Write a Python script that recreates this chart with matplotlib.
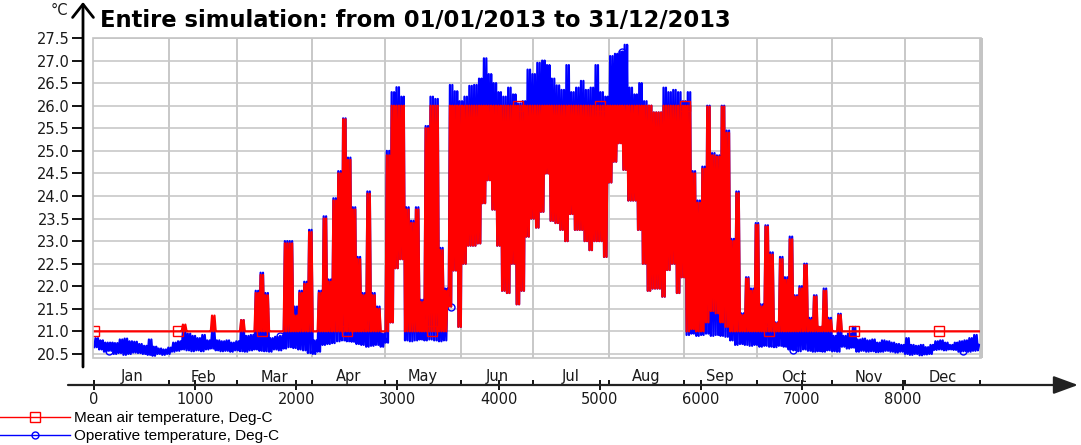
import matplotlib
matplotlib.use("Agg")
import matplotlib.pyplot as plt
from matplotlib.lines import Line2D
from matplotlib.patches import FancyArrowPatch, Rectangle
import numpy as np

plt.rcParams["path.simplify"] = False

# ---------------- data (2-day periods, 48 h each) ----------------
period_hours = 48
total_hours = 8760

# Mean air temperature: per-period maximum and minimum
air_hi = [
    21.0, 21.0, 21.0, 21.0, 21.0, 21.0, 21.0, 21.0, 21.0, 21.0,
    21.0, 21.0, 21.0, 21.0, 21.0, 21.0, 21.0, 21.0, 21.15, 21.0,
    21.0, 21.0, 21.0, 21.0, 21.35, 21.0, 21.0, 21.0, 21.0, 21.0,
    21.25, 21.0, 21.0, 21.85, 22.25, 21.8, 21.0, 21.0, 21.0, 22.95,
    22.95, 21.35, 21.85, 22.05, 23.2, 21.0, 21.85, 23.5, 22.1, 23.9,
    24.5, 25.7, 24.8, 23.7, 22.6, 21.8, 24.05, 21.8, 21.5, 21.0,
    24.9, 26.0, 26.0, 26.0, 23.7, 23.4, 23.7, 21.65, 25.5, 26.0,
    26.0, 22.8, 21.9, 26.0, 26.0, 26.0, 26.0, 26.0, 26.0, 26.0,
    26.0, 26.0, 26.0, 26.0, 26.0, 26.0, 26.0, 26.0, 26.0, 26.0,
    26.0, 26.0, 26.0, 26.0, 26.0, 26.0, 26.0, 26.0, 26.0, 26.0,
    26.0, 26.0, 26.0, 26.0, 26.0, 26.0, 26.0, 26.0, 26.0, 26.0,
    26.0, 26.0, 26.0, 26.0, 26.0, 25.85, 25.85, 26.0, 26.0, 26.0,
    26.0, 26.0, 26.0, 24.5, 23.85, 24.6, 25.98, 24.9, 24.87, 25.98,
    25.4, 23.0, 24.06, 21.36, 22.17, 21.9, 23.36, 21.55, 23.32, 22.7,
    21.18, 22.6, 22.14, 23.04, 21.77, 21.95, 22.47, 21.25, 21.77, 21.1,
    21.9, 21.25, 21.0, 21.36, 21.0, 21.0, 21.0, 21.0, 21.0, 21.0,
    21.0, 21.0, 21.0, 21.0, 21.0, 21.0, 21.0, 21.0, 21.0, 21.0,
    21.0, 21.0, 21.0, 21.0, 21.0, 21.0, 21.0, 21.0, 21.0, 21.0,
    21.0, 21.0, 21.0,
]
air_lo = [
    21.0, 21.0, 21.0, 21.0, 21.0, 21.0, 21.0, 21.0, 21.0, 21.0,
    21.0, 21.0, 21.0, 21.0, 21.0, 21.0, 21.0, 21.0, 21.0, 21.0,
    21.0, 21.0, 21.0, 21.0, 21.0, 21.0, 21.0, 21.0, 21.0, 21.0,
    21.0, 21.0, 21.0, 21.0, 21.0, 21.0, 21.0, 21.0, 21.0, 21.0,
    21.0, 21.0, 21.0, 21.0, 21.0, 21.0, 21.0, 21.0, 21.0, 21.0,
    21.0, 21.0, 21.0, 21.0, 21.0, 21.0, 21.0, 21.0, 21.0, 21.0,
    21.0, 21.2, 22.4, 22.6, 21.0, 21.0, 21.0, 21.0, 21.0, 21.0,
    21.0, 21.0, 21.0, 21.55, 22.35, 21.1, 22.5, 22.9, 22.9, 22.95,
    23.84, 24.35, 23.7, 22.9, 21.9, 21.85, 22.5, 21.6, 21.9, 23.1,
    23.5, 23.3, 23.65, 24.5, 23.45, 23.4, 23.25, 23.0, 23.6, 23.25,
    23.25, 23.0, 22.8, 23.0, 23.0, 22.65, 24.3, 24.76, 25.17, 24.58,
    23.9, 23.9, 23.25, 22.5, 21.9, 21.95, 21.95, 21.77, 22.36, 22.5,
    21.85, 22.2, 21.0, 21.05, 21.0, 21.0, 21.2, 21.45, 21.4, 21.2,
    21.1, 21.0, 21.0, 21.0, 21.0, 21.0, 21.0, 21.0, 21.0, 21.0,
    21.0, 21.0, 21.0, 21.0, 21.0, 21.0, 21.0, 21.0, 21.0, 21.0,
    21.0, 21.0, 21.0, 21.0, 21.0, 21.0, 21.0, 21.0, 21.0, 21.0,
    21.0, 21.0, 21.0, 21.0, 21.0, 21.0, 21.0, 21.0, 21.0, 21.0,
    21.0, 21.0, 21.0, 21.0, 21.0, 21.0, 21.0, 21.0, 21.0, 21.0,
    21.0, 21.0, 21.0,
]

# Operative temperature: per-period maximum and minimum
oper_hi = [
    20.85, 20.8, 20.75, 20.75, 20.74, 20.82, 20.84, 20.78, 20.77, 20.72,
    20.68, 20.82, 20.66, 20.62, 20.6, 20.64, 20.75, 20.78, 21.0, 20.95,
    20.9, 20.85, 20.92, 20.8, 21.0, 20.8, 20.78, 20.8, 20.75, 20.78,
    21.25, 20.9, 20.92, 21.9, 22.3, 21.85, 20.85, 20.88, 20.9, 23.0,
    23.0, 21.55, 21.9, 22.1, 23.25, 20.8, 21.9, 23.55, 22.15, 23.95,
    24.55, 25.72, 24.85, 23.75, 22.65, 21.85, 24.1, 21.85, 21.55, 20.95,
    25.0, 26.3, 26.41, 26.2, 23.75, 23.45, 23.75, 21.7, 25.55, 26.2,
    26.15, 22.85, 21.95, 26.46, 26.32, 26.1, 26.2, 26.44, 26.46, 26.6,
    27.05, 26.7, 26.5, 26.3, 26.2, 26.4, 26.25, 26.05, 26.1, 26.8,
    26.7, 26.95, 27.0, 26.9, 26.6, 26.45, 26.35, 26.9, 26.3, 26.4,
    26.55, 26.35, 26.4, 26.9, 26.3, 26.2, 27.1, 27.15, 27.2, 27.35,
    26.4, 26.25, 26.5, 26.1, 26.0, 25.85, 25.85, 26.4, 26.3, 26.35,
    26.3, 26.1, 26.3, 24.55, 23.9, 24.65, 26.0, 24.95, 24.9, 26.0,
    25.45, 23.05, 24.1, 21.4, 22.2, 21.95, 23.4, 21.6, 23.35, 22.75,
    21.2, 22.65, 22.2, 23.1, 21.8, 22.0, 22.5, 21.3, 21.8, 21.1,
    21.95, 21.3, 20.9, 21.39, 20.9, 20.95, 21.1, 20.82, 20.84, 20.8,
    20.82, 20.75, 20.8, 20.78, 20.75, 20.72, 20.7, 20.85, 20.7, 20.68,
    20.7, 20.65, 20.7, 20.78, 20.8, 20.75, 20.7, 20.75, 20.78, 20.8,
    20.85, 20.92, 20.7,
]
oper_lo = [
    20.65, 20.6, 20.55, 20.57, 20.5, 20.52, 20.48, 20.5, 20.53, 20.52,
    20.5, 20.48, 20.46, 20.5, 20.48, 20.5, 20.55, 20.57, 20.6, 20.58,
    20.56, 20.58, 20.56, 20.6, 20.62, 20.58, 20.56, 20.57, 20.55, 20.58,
    20.56, 20.55, 20.58, 20.6, 20.57, 20.56, 20.55, 20.6, 20.58, 20.62,
    20.65, 20.63, 20.6, 20.58, 20.52, 20.5, 20.55, 20.7, 20.72, 20.74,
    20.78, 20.8, 20.78, 20.77, 20.72, 20.7, 20.66, 20.68, 20.7, 20.66,
    20.75, 21.2, 22.4, 22.6, 20.8, 20.78, 20.8, 20.82, 20.8, 20.82,
    20.8, 20.78, 20.8, 21.55, 22.35, 21.1, 22.5, 22.9, 22.9, 22.95,
    23.84, 24.35, 23.7, 22.9, 21.9, 21.85, 22.5, 21.6, 21.9, 23.1,
    23.5, 23.3, 23.65, 24.5, 23.45, 23.4, 23.25, 23.0, 23.6, 23.25,
    23.25, 23.0, 22.8, 23.0, 23.0, 22.65, 24.3, 24.76, 25.17, 24.58,
    23.9, 23.9, 23.25, 22.5, 21.9, 21.95, 21.95, 21.77, 22.36, 22.5,
    21.85, 22.2, 20.92, 20.95, 20.9, 20.92, 20.95, 20.9, 20.92, 20.9,
    20.88, 20.8, 20.7, 20.72, 20.7, 20.68, 20.7, 20.66, 20.68, 20.66,
    20.65, 20.68, 20.66, 20.6, 20.58, 20.56, 20.6, 20.57, 20.55, 20.56,
    20.55, 20.58, 20.56, 20.55, 20.66, 20.62, 20.64, 20.55, 20.57, 20.55,
    20.56, 20.54, 20.55, 20.57, 20.55, 20.53, 20.55, 20.5, 20.48, 20.5,
    20.47, 20.49, 20.5, 20.59, 20.6, 20.58, 20.6, 20.59, 20.55, 20.56,
    20.55, 20.57, 20.58,
]

month_names = ["Jan", "Feb", "Mar", "Apr", "May", "Jun",
               "Jul", "Aug", "Sep", "Oct", "Nov", "Dec"]
month_days = [31, 28, 31, 30, 31, 30, 31, 31, 30, 31, 30, 31]
y_ticks = [20.5, 21.0, 21.5, 22.0, 22.5, 23.0, 23.5, 24.0, 24.5, 25.0, 25.5, 26.0, 26.5, 27.0, 27.5]
x_ticks = [0, 1000, 2000, 3000, 4000, 5000, 6000, 7000, 8000]
air_marker_hours = [0, 835, 1660, 2505, 3340, 4190, 5010, 5845, 6680, 7515, 8350]
oper_marker_hours = [150, 1840, 3530, 5220, 6910, 8600]

title = "Entire simulation: from 01/01/2013 to 31/12/2013"
label_air = "Mean air temperature, Deg-C"
label_oper = "Operative temperature, Deg-C"


# ---------------- build daily-cycle series from the period extremes ----------------
def cycle_series(lo, hi):
    t, v = [], []
    for k in range(len(lo)):
        for j, off in enumerate((3, 15, 27, 39)):
            h = period_hours * k + off
            if h >= total_hours:
                break
            t.append(h)
            v.append(lo[k] if j % 2 == 0 else hi[k])
    return np.array(t), np.array(v)


t_air, v_air = cycle_series(air_lo, air_hi)
t_op, v_op = cycle_series(oper_lo, oper_hi)


def marker_idx(t, hours):
    return [int(np.argmin(np.abs(t - h))) for h in hours]


# ---------------- figure ----------------
W, H = 1081, 445
PT = 72.0 / 100.0  # points per pixel at 100 dpi
fig = plt.figure(figsize=(W / 100, H / 100), dpi=100)
ax_left, ax_right, ax_top, ax_bottom = 93, 981, 38, 358
ax = fig.add_axes([ax_left / W, 1 - ax_bottom / H, (ax_right - ax_left) / W, (ax_bottom - ax_top) / H])

RED = "#ff0000"
BLUE = "#0000ff"

ax.plot(t_op, v_op, color=BLUE, lw=1.6, marker="o", ms=5, mfc="none", mec=BLUE, mew=1.0,
        markevery=marker_idx(t_op, oper_marker_hours), zorder=3)
ax.plot(t_air, v_air, color=RED, lw=1.6, marker="s", ms=7, mfc="none", mec=RED, mew=1.0,
        markevery=marker_idx(t_air, air_marker_hours), zorder=4)

ax.set_xlim(-10, 8770)
ax.set_ylim(20.41, 27.5)

# month boundaries
bounds = [0]
for d in month_days:
    bounds.append(bounds[-1] + 24 * d)
centers = [(bounds[i] + bounds[i + 1]) / 2 for i in range(12)]

ax.set_yticks(y_ticks)
ax.set_yticklabels([f"{v:.1f}" for v in y_ticks])
ax.set_xticks(x_ticks)
ax.set_xticklabels([str(v) for v in x_ticks])
ax.set_xticks(bounds, minor=True)
ax.set_yticks([], minor=True)

ax.grid(which="major", axis="y", color="#c8c8c8", lw=1.2)
ax.grid(which="minor", axis="x", color="#c8c8c8", lw=1.4)
ax.grid(which="major", axis="x", visible=False)
ax.set_axisbelow(True)

for s in ("top", "right"):
    ax.spines[s].set_visible(False)
ax.spines["left"].set_position(("outward", 10 * PT))
ax.spines["bottom"].set_position(("outward", 27 * PT))
ax.spines["left"].set_visible(False)
ax.spines["bottom"].set_visible(False)

ax.tick_params(axis="y", which="major", direction="out", length=11 * PT, width=1.3, color="black",
               pad=1.5, labelsize=10.5, labelcolor="#1a1a1a")
ax.tick_params(axis="x", which="major", direction="inout", length=10 * PT, width=1.3, color="black",
               pad=1.5, labelsize=10.5, labelcolor="#1a1a1a")
ax.tick_params(axis="x", which="minor", direction="in", length=5 * PT, width=1.3, color="black")
for lab in ax.get_xticklabels() + ax.get_yticklabels():
    lab.set_fontfamily("DejaVu Sans")

# frame of plotting area
ax.add_patch(Rectangle((0, 0), 1, 1, transform=ax.transAxes, fill=False,
                       edgecolor="#c4c4c4", lw=1.2, clip_on=False, zorder=5))
ax.add_patch(Rectangle((1.0, 0), 0.0025, 1, transform=ax.transAxes, fill=True,
                       facecolor="#c4c4c4", edgecolor="none", clip_on=False, zorder=5))

# month labels (between plot area and axis line)
for name, c in zip(month_names, centers):
    ax.text(c, (ax_bottom - 377) / (ax_bottom - ax_top), name, transform=ax.get_xaxis_transform(),
            ha="center", va="center", fontsize=10.5, family="DejaVu Sans", color="#1a1a1a")


# axis arrows (figure pixel coordinates)
def fx(px):
    return px / W


def fy(py):
    return 1 - py / H


fig.add_artist(FancyArrowPatch((fx(68), fy(385)), (fx(1078), fy(385)), transform=fig.transFigure,
                               arrowstyle="-|>,head_length=1.5,head_width=0.55", mutation_scale=10,
                               color="#222222", lw=1.6, shrinkA=0, shrinkB=0))
fig.add_artist(FancyArrowPatch((fx(83), fy(367)), (fx(83), fy(2)), transform=fig.transFigure,
                               arrowstyle="->,head_length=0.95,head_width=0.75", mutation_scale=10,
                               color="black", lw=2.0, shrinkA=0, shrinkB=0))

# title and unit
fig.text(fx(100), fy(27), title, fontsize=16.3, fontweight="bold", family="DejaVu Sans",
         ha="left", va="baseline", color="black")
fig.text(fx(68), fy(15), "°C", fontsize=10.5, family="DejaVu Sans", ha="right", va="baseline", color="#1a1a1a")

# legend
h_air = Line2D([], [], color=RED, lw=1.0, marker="s", ms=7, mfc="none", mec=RED, mew=1.0)
h_op = Line2D([], [], color=BLUE, lw=1.0, marker="o", ms=5, mfc="none", mec=BLUE, mew=1.0)
fig.legend([h_air, h_op], [label_air, label_oper], loc="upper left",
           bbox_to_anchor=(0, fy(411)), bbox_transform=fig.transFigure, frameon=False,
           borderpad=0, borderaxespad=0, handlelength=4.6, handletextpad=0.25,
           labelspacing=0.28, numpoints=1,
           prop={"family": "Liberation Sans", "size": 11})

fig.savefig("out.png", dpi=100)
